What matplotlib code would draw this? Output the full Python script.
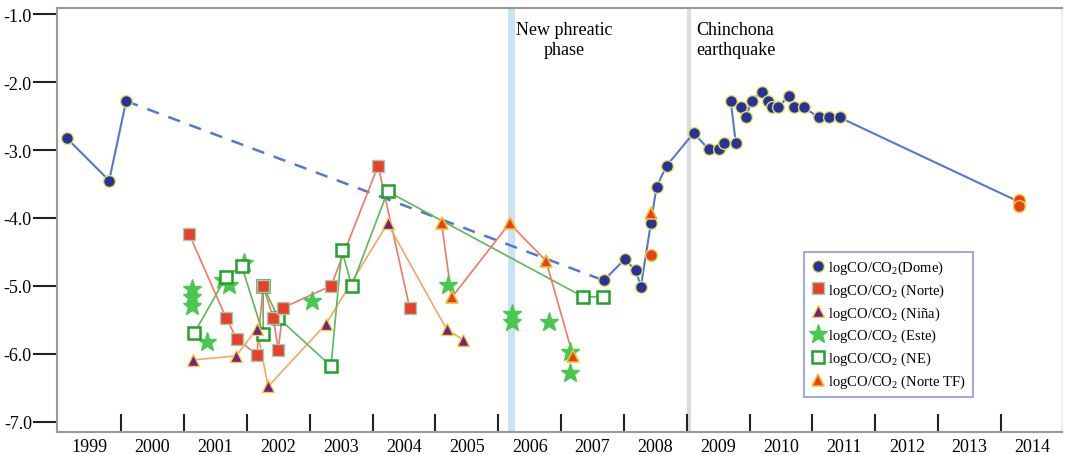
import matplotlib
matplotlib.use("Agg")
import matplotlib.pyplot as plt
from matplotlib.ticker import FixedLocator, NullFormatter

plt.rcParams['font.family'] = ['Liberation Serif', 'DejaVu Serif']
plt.rcParams['mathtext.fontset'] = 'custom'
plt.rcParams['mathtext.rm'] = 'Liberation Serif'

# Dome
dome_x = [1999.14, 1999.81, 2000.08]
dome_y = [-2.83, -3.45, -2.28]
dome2_x = [2007.68, 2008.01, 2008.19, 2008.27, 2008.43, 2008.52, 2008.68, 2009.11,
           2009.35, 2009.52, 2009.60, 2009.78, 2009.70, 2009.86, 2009.94, 2010.03,
           2010.19, 2010.29, 2010.35, 2010.45, 2010.62, 2010.70, 2010.86, 2011.10,
           2011.27, 2011.43, 2014.28]
dome2_y = [-4.92, -4.61, -4.77, -5.01, -4.07, -3.54, -3.23, -2.75,
           -2.99, -2.99, -2.90, -2.90, -2.28, -2.37, -2.52, -2.28,
           -2.14, -2.28, -2.37, -2.37, -2.21, -2.37, -2.37, -2.52,
           -2.52, -2.52, -3.76]
dome_orange_x = [2008.43, 2014.29, 2014.29]
dome_orange_y = [-4.54, -3.74, -3.83]

# Norte
norte_x = [2001.08, 2001.67, 2001.84, 2002.16, 2002.26, 2002.42, 2002.50, 2002.58,
           2003.34, 2004.09, 2004.59]
norte_y = [-4.23, -5.47, -5.78, -6.01, -5.00, -5.47, -5.94, -5.32,
           -5.00, -3.23, -5.32]

# Nina
nina_x = [2001.14, 2001.83, 2002.16, 2002.34, 2003.26, 2004.24, 2005.18, 2005.44]
nina_y = [-6.09, -6.03, -5.63, -6.48, -5.56, -4.08, -5.64, -5.79]

# Este
este_x = [2001.13, 2001.13, 2001.13, 2001.37, 2001.62, 2001.72, 2001.96, 2003.04,
          2005.20, 2006.22, 2006.22, 2006.80, 2007.14, 2007.14]
este_y = [-5.04, -5.17, -5.29, -5.82, -4.91, -4.98, -4.66, -5.22,
          -4.98, -5.42, -5.53, -5.53, -5.97, -6.28]

# NE
ne_x = [2001.16, 2001.67, 2001.92, 2002.26, 2002.26, 2002.50, 2003.34, 2003.51,
        2003.67, 2004.24, 2007.35, 2007.67]
ne_y = [-5.70, -4.87, -4.71, -5.71, -5.00, -5.47, -6.18, -4.47,
        -5.00, -3.61, -5.16, -5.16]

# Norte TF
tf_x = [2005.10, 2005.26, 2006.18, 2006.76, 2007.19]
tf_y = [-4.08, -5.17, -4.08, -4.63, -6.03]
tf2_x = [2008.43]
tf2_y = [-3.93]

years = list(range(1999, 2015))
yticks = [-1.0, -2.0, -3.0, -4.0, -5.0, -6.0, -7.0]

fig = plt.figure(figsize=(10.66, 4.56), dpi=100)
ax = fig.add_axes([57 / 1066, 1 - 433 / 456, 1005 / 1066, 424 / 456])

ax.axvline(2006.2, color='#c9e3f1', lw=5, zorder=0)
ax.axvline(2009.03, color='#dcdcdc', lw=3, zorder=0)

blue = '#27339a'
lblue = '#5577cc'
ax.plot(dome_x, dome_y, '-', color=lblue, lw=1.5, zorder=2)
ax.plot([dome_x[-1], dome2_x[0]], [dome_y[-1], dome2_y[0]], '--', color=lblue,
        lw=1.8, dashes=(5, 4), zorder=2)
ax.plot(dome2_x, dome2_y, '-', color=lblue, lw=1.5, zorder=2)
ax.plot(dome_x + dome2_x, dome_y + dome2_y, 'o', color=blue, mec='#e6e05a',
        mew=1, ms=8.5, zorder=4, label='logCO/CO$_2$(Dome)')
ax.plot(dome_orange_x, dome_orange_y, 'o', color='#e8401c', mec='#f0d040',
        mew=1, ms=8.5, zorder=5)

ax.plot(norte_x, norte_y, '-', color='#f07868', lw=1.2, zorder=2)
ax.plot(norte_x, norte_y, 's', color='#e8402a', mec='#9ed0b0', mew=1, ms=8,
        zorder=4, label='logCO/CO$_2$ (Norte)', ls='none')

ax.plot(nina_x, nina_y, '-', color='#f0a868', lw=1.2, zorder=2)
ax.plot(nina_x, nina_y, '^', color='#78207a', mec='#f0d040', mew=1, ms=8,
        zorder=4, label='logCO/CO$_2$ (Niña)', ls='none')

ax.plot(este_x, este_y, '*', color='#48c850', mec='#48c850', ms=14, zorder=3,
        label='logCO/CO$_2$ (Este)', ls='none')

ax.plot(ne_x, ne_y, '-', color='#5cb85c', lw=1.2, zorder=2)
ax.plot(ne_x, ne_y, 's', mfc='white', mec='#22a030', mew=1.8, ms=8, zorder=3,
        label='logCO/CO$_2$ (NE)', ls='none')

ax.plot(tf_x, tf_y, '-', color='#f07868', lw=1.2, zorder=2)
ax.plot(tf_x + tf2_x, tf_y + tf2_y, '^', color='#e8401c', mec='#f0c030',
        mew=1.2, ms=8, zorder=4, label='logCO/CO$_2$ (Norte TF)', ls='none')

ax.set_xlim(1998.98, 2014.97)
ax.set_ylim(-7.15, -0.91)

ax.set_xticks([y + 1 for y in years[:-1]])
ax.xaxis.set_major_formatter(NullFormatter())
ax.xaxis.set_minor_locator(FixedLocator([y + 0.5 for y in years]))
ax.set_xticklabels([str(y) for y in years], minor=True, fontsize=13)
ax.tick_params(axis='x', which='major', direction='in', length=13, width=1.5,
               color='#222222')
ax.tick_params(axis='x', which='minor', length=0, pad=4)

ax.set_yticks(yticks)
ax.set_yticklabels(['%.1f' % v for v in yticks], fontsize=13)
ax.tick_params(axis='y', direction='out', length=17, width=1.5, color='#222222',
               pad=1)

for s in ax.spines.values():
    s.set_color('#999999')
    s.set_linewidth(1.5)
ax.spines['right'].set_color('#eeeeee')

ax.text(2007.05, -1.1, 'New phreatic\nphase', ha='center', va='top',
        fontsize=13, linespacing=1.2)
ax.text(2009.15, -1.1, 'Chinchona\nearthquake', ha='left', va='top',
        fontsize=13, linespacing=1.2)

leg = ax.legend(loc='lower right', bbox_to_anchor=(0.911, 0.083), fontsize=10.5,
                frameon=True, fancybox=False, handletextpad=0.2,
                handlelength=1.0, borderpad=0.45, labelspacing=0.38,
                borderaxespad=0)
leg.get_frame().set_edgecolor('#7080d0')
leg.get_frame().set_linewidth(1.2)

fig.savefig('out.png', dpi=100)
